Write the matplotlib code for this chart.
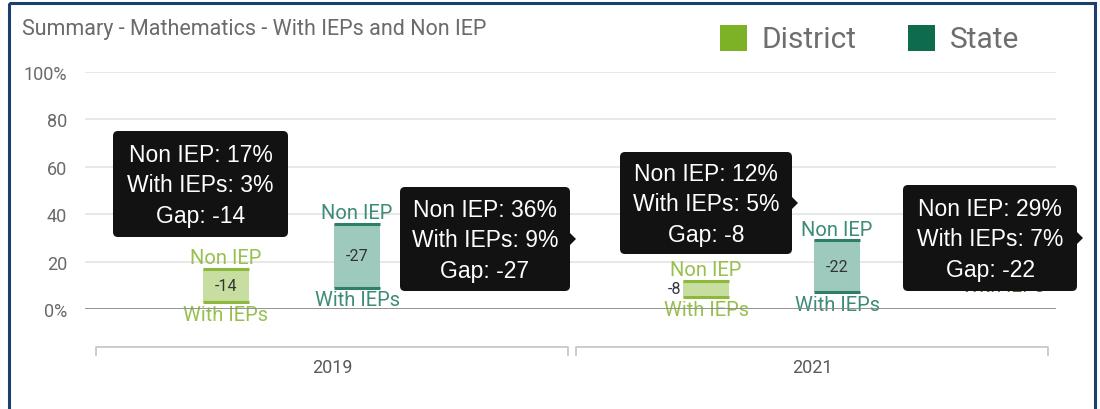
import matplotlib
matplotlib.use("Agg")
import matplotlib.pyplot as plt
from matplotlib.patches import Rectangle, FancyBboxPatch, Polygon
import matplotlib.transforms as mtransforms

# ---------------- data ----------------
years = ["2019", "2021"]
series = ["District", "State"]
district_non_iep = [17, 12]
district_with_ieps = [3, 5]
district_gap = [-14, -8]
state_non_iep = [36, 29]
state_with_ieps = [9, 7]
state_gap = [-27, -22]
y_ticks = [0, 20, 40, 60, 80, 100]
y_tick_labels = ["0%", "20", "40", "60", "80", "100%"]
title = "Summary - Mathematics - With IEPs and Non IEP"

data = {
    "District": (district_non_iep, district_with_ieps, district_gap),
    "State": (state_non_iep, state_with_ieps, state_gap),
}

# ---------------- style ----------------
FONT = ["Roboto", "DejaVu Sans"]
TIPFONT = ["Liberation Sans", "DejaVu Sans"]
style = {
    "District": dict(fill="#c8dea0", edge="#8cb83c", text="#98c04e",
                     legend="#7db226", offset=-0.221),
    "State": dict(fill="#9ecabd", edge="#2f7e6b", text="#3d8b79",
                  legend="#0f6b4e", offset=0.052),
}
bar_w = 0.096

W, H = 1100, 410
fig = plt.figure(figsize=(11, 4.1), dpi=100)
fig.patch.set_facecolor("white")


def fx(px):
    return px / W


def fy(py):
    return 1 - py / H


ax = fig.add_axes([fx(85), fy(310), fx(1056) - fx(85), fy(73) - fy(310)])
ax.set_xlim(-0.5146, 1.508)
ax.set_ylim(0, 100)
for sp in ax.spines.values():
    sp.set_visible(False)
ax.set_yticks(y_ticks)
ax.set_yticklabels(y_tick_labels, family=FONT)
ax.set_xticks([])
ax.tick_params(axis="y", length=0, pad=13, labelsize=13, labelcolor="#6a6a6a")
ax.grid(axis="y", color="#e6e6e6", lw=1.3, zorder=0)
ax.set_axisbelow(True)
ax.axhline(0, color="#8a8a8a", lw=2, zorder=8)

# bars
for s in series:
    non, wth, gp = data[s]
    st = style[s]
    for i in range(len(years)):
        x = i + st["offset"]
        ax.bar(x, non[i] - wth[i], bottom=wth[i], width=bar_w,
               color=st["fill"], zorder=3)
        ax.hlines([wth[i], non[i]], x - bar_w / 2, x + bar_w / 2,
                  color=st["edge"], lw=2.2, zorder=4)
        ax.annotate("Non IEP", (x, non[i]), xytext=(0, 1),
                    textcoords="offset points", ha="center", va="bottom",
                    fontsize=14.5, color=st["text"], family=FONT, zorder=5)
        ax.annotate("With IEPs", (x, wth[i]), xytext=(0, -2),
                    textcoords="offset points", ha="center", va="top",
                    fontsize=14.5, color=st["text"], family=FONT, zorder=5)
        mid = (non[i] + wth[i]) / 2
        if non[i] - wth[i] >= 10:
            ax.annotate(str(gp[i]), (x, mid), ha="center", va="center",
                        fontsize=11.5, color="#333333", family=FONT, zorder=5)
        else:
            ax.annotate(str(gp[i]), (x - bar_w / 2, mid), xytext=(-1.5, 0),
                        textcoords="offset points", ha="right", va="center",
                        fontsize=11.5, color="#333344", family=FONT, zorder=5)

# category brackets
trans = mtransforms.blended_transform_factory(ax.transData, ax.transAxes)
for i, yr in enumerate(years):
    x0, x1 = i - 0.492, i + 0.492
    ax.plot([x0, x0, x1, x1], [-0.194, -0.160, -0.160, -0.194],
            transform=trans, clip_on=False, color="#c8c8c8", lw=1.3)
    ax.text(i, -0.245, yr, transform=trans, ha="center", va="center",
            fontsize=13, color="#5a5a5a", family=FONT)

# ---------------- overlay (title, legend, tooltips, frame) ----------------
ov = fig.add_axes([0, 0, 1, 1], zorder=10)
ov.set_xlim(0, W)
ov.set_ylim(H, 0)
ov.axis("off")
ov.patch.set_alpha(0)

ov.text(22, 30, title, fontsize=15.5, color="#6b6b6b", va="center", ha="left",
        family=FONT)

legend_pos = {"District": (720, 762), "State": (908, 950)}
for s in series:
    sx, tx = legend_pos[s]
    ov.add_patch(Rectangle((sx, 26), 27, 26, color=style[s]["legend"], lw=0))
    ov.text(tx, 40, s, fontsize=21.5, color="#6e6e6e", va="center", ha="left",
            family=FONT)

# partially hidden label behind last tooltip
ov.text(1003, 278, "With IEPs", color="#4f6f2a", fontsize=14, ha="center",
        va="top", family=FONT, zorder=1)

tip_boxes = [
    ("District", 0, (113, 132, 288, 238), False),
    ("State", 0, (400, 188, 570, 292), True),
    ("District", 1, (620, 153, 792, 255), True),
    ("State", 1, (903, 186, 1077, 292), True),
]
for s, i, (x0, y0, x1, y1), ptr in tip_boxes:
    non, wth, gp = data[s]
    ov.add_patch(FancyBboxPatch((x0, y0), x1 - x0, y1 - y0,
                                boxstyle="round,pad=0,rounding_size=5",
                                fc="#121212", ec="none", zorder=2))
    cy = (y0 + y1) / 2
    if ptr:
        ov.add_patch(Polygon([(x1 - 1, cy - 7), (x1 + 6, cy), (x1 - 1, cy + 7)],
                             closed=True, fc="#121212", ec="none", zorder=2))
    ov.text((x0 + x1) / 2, cy + 1,
            f"Non IEP: {non[i]}%\nWith IEPs: {wth[i]}%\nGap: {gp[i]}",
            ha="center", va="center", multialignment="center",
            fontsize=16.5, color="white", linespacing=1.42, family=TIPFONT,
            zorder=3)

# screenshot frame
ov.add_patch(Rectangle((9, 4), 1086, 420, fill=False, ec="#1d3f6e", lw=2.2,
                       zorder=20))

fig.savefig("out.png", dpi=100)
